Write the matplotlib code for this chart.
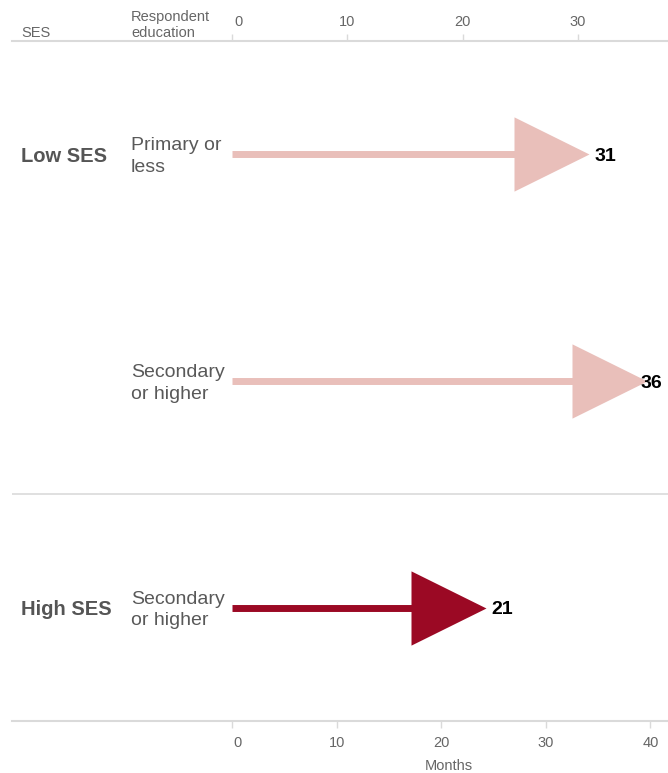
import matplotlib
matplotlib.use("Agg")
import matplotlib.pyplot as plt
import matplotlib.transforms as mtransforms
import numpy as np

plt.rcParams['font.family'] = ['Liberation Sans', 'DejaVu Sans']

# ---- data ----
ses = ['Low SES', 'Low SES', 'High SES']
education = ['Primary or\nless', 'Secondary\nor higher', 'Secondary\nor higher']
months = [31, 36, 21]                 # labelled values
arrow_end = [31.0, 36.0, 22.0]        # arrow tip positions as drawn
highlight = [False, False, True]
top_ticks = [0, 10, 20, 30]
bottom_ticks = [0, 10, 20, 30, 40]

# ---- style ----
W, H, DPI = 668, 773, 100
light = '#E9BFBA'
dark = '#9B0924'
grid_c = '#DADADA'
txt_c = '#595959'
tick_c = '#666666'

fig = plt.figure(figsize=(W / DPI, H / DPI), dpi=DPI)
ax = fig.add_axes([12 / W, (H - 721) / H, 656 / W, 680 / H])
ax2 = ax.twiny()

ax.set_xlim(-19.08, 37.81)
ax.set_ylim(2.5, -0.5)

for s in ['left', 'right']:
    ax.spines[s].set_visible(False)
for s in ['top', 'bottom']:
    ax.spines[s].set_color(grid_c)
    ax.spines[s].set_linewidth(1.5)

ax.set_yticks([])
ax.xaxis.tick_top()
ax.set_xticks(top_ticks)
ax.tick_params(axis='x', which='both', top=True, bottom=False, labeltop=True,
               labelbottom=False, direction='out',
               length=5, width=1, color=grid_c, labelcolor=tick_c, labelsize=10.5, pad=4)

# bottom axis with its own scale
ax2.set_xlim(-21.03, 41.68)
ax2.xaxis.tick_bottom()
ax2.xaxis.set_label_position('bottom')
ax2.set_xticks(bottom_ticks)
for s in ax2.spines.values():
    s.set_visible(False)
ax2.tick_params(axis='x', which='both', bottom=True, top=False, labelbottom=True,
                labeltop=False, direction='out',
                length=5, width=1, color=grid_c, labelcolor=tick_c, labelsize=10.5, pad=6)
ax2.set_xlabel('Months', color=tick_c, fontsize=10.5)
ax2.xaxis.set_label_coords((449 - 12) / 656, (721 - 766) / 680)
ax2.xaxis.label.set_va('center')

# shift "0" tick labels slightly right
off = mtransforms.ScaledTranslation(6 / DPI, 0, fig.dpi_scale_trans)
for a in (ax, ax2):
    lbl = a.get_xticklabels()[0]
    lbl.set_transform(lbl.get_transform() + off)

# group separator
ax.axhline(1.5, color=grid_c, lw=1.2)

# arrows
head = [(-2, -0.99), (-2, 0.99), (0, 0)]
for i, (end, val, hl) in enumerate(zip(arrow_end, months, highlight)):
    c = dark if hl else light
    ax.plot([0, end - 3], [i, i], color=c, lw=5, solid_capstyle='butt', zorder=2)
    ax.plot([end], [i], marker=head, markersize=108, color=c, mew=0,
            linestyle='none', zorder=3, clip_on=False)
    lx = min(end + 0.45, 35.4)
    ax.text(lx, i + 0.01, str(val), ha='left', va='center', fontsize=14,
            fontweight='bold', color='black', zorder=4)

# row labels
ytr = ax.get_yaxis_transform()
seen = set()
for i, (g, ed) in enumerate(zip(ses, education)):
    if g not in seen:
        seen.add(g)
        ax.text((21 - 12) / 656, i + 0.01, g, transform=ytr, ha='left', va='center',
                fontsize=14.5, fontweight='bold', color='#555555')
    ax.text((131 - 12) / 656, i + 0.01, ed, transform=ytr, ha='left', va='center',
            fontsize=14, color=txt_c, linespacing=1.35)

# header
fig.text(21 / W, 1 - 33 / H, 'SES', ha='left', va='center', fontsize=10.5, color=tick_c)
fig.text(131 / W, 1 - 25 / H, 'Respondent\neducation', ha='left', va='center',
         fontsize=10.5, color=tick_c, linespacing=1.2)

fig.savefig('out.png', dpi=DPI)
